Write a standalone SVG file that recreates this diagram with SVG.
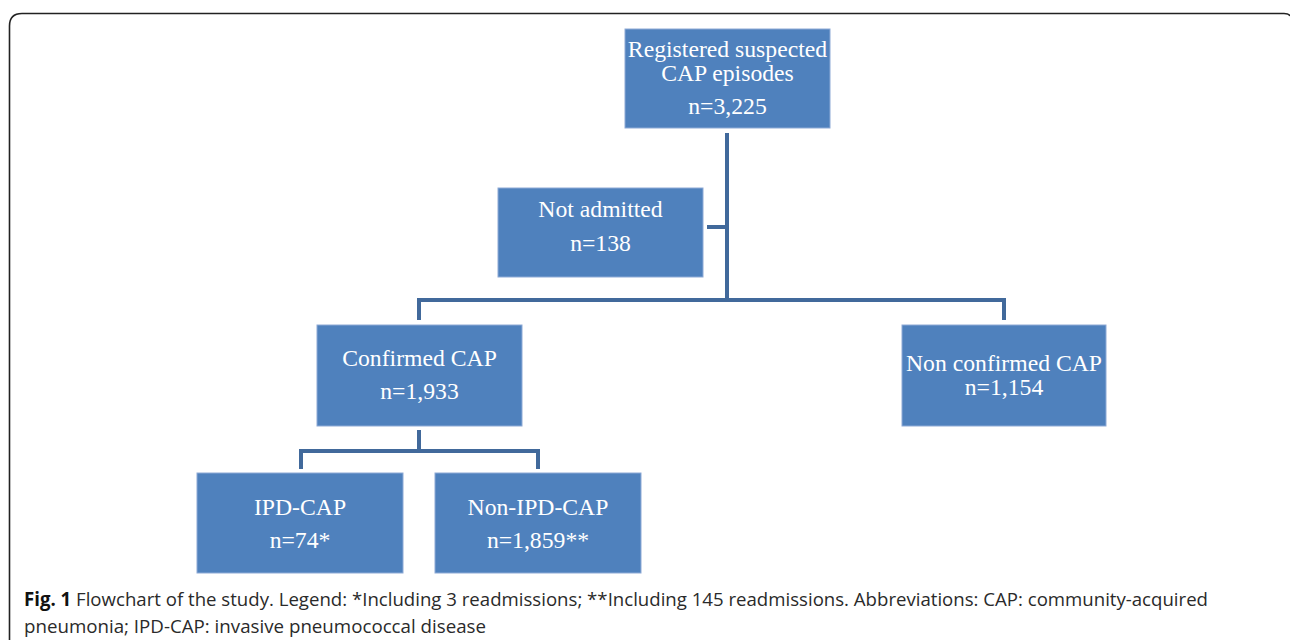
<svg xmlns="http://www.w3.org/2000/svg" width="1290" height="640" viewBox="0 0 1290 640">
<style>
.box{fill:#4F81BD;stroke:#8EAAD6;stroke-width:1}
.t{font-family:"Liberation Serif","Times New Roman",serif;font-size:23.7px;fill:#ffffff;text-anchor:middle}
.ln{fill:none;stroke:#41699B;stroke-width:4;stroke-linejoin:miter;stroke-linecap:butt}
.cap{font-family:"Open Sans","Liberation Sans",sans-serif;font-size:19px;fill:#2a2a2a}
</style>
<rect x="0" y="0" width="1290" height="640" fill="#ffffff"/>
<path d="M9.5,660 L9.5,26 Q9.5,13.5 22,13.5 L1284,13.5 Q1289,13.5 1290,16" fill="none" stroke="#222" stroke-width="1.6"/>
<g id="connectors">
<path class="ln" d="M727,133 L727,300"/>
<path class="ln" d="M707,227 L727,227"/>
<path class="ln" d="M419,320 L419,300 L1004,300 L1004,320"/>
<path class="ln" d="M419,430 L419,451"/>
<path class="ln" d="M301,469 L301,451 L538,451 L538,469"/>
</g>
<g id="registered">
<rect class="box" x="625" y="29" width="205" height="99"/>
<text class="t" x="727.5" y="57">Registered suspected</text>
<text class="t" x="727.5" y="81">CAP episodes</text>
<text class="t" x="727.5" y="114">n=3,225</text>
</g>
<g id="not-admitted">
<rect class="box" x="498" y="188" width="205" height="89"/>
<text class="t" x="600.5" y="217">Not admitted</text>
<text class="t" x="600.5" y="251">n=138</text>
</g>
<g id="confirmed">
<rect class="box" x="317" y="325" width="205" height="101"/>
<text class="t" x="419.5" y="366">Confirmed CAP</text>
<text class="t" x="419.5" y="399">n=1,933</text>
</g>
<g id="non-confirmed">
<rect class="box" x="902" y="325" width="204" height="101"/>
<text class="t" x="1004" y="371">Non confirmed CAP</text>
<text class="t" x="1004" y="395">n=1,154</text>
</g>
<g id="ipd">
<rect class="box" x="197" y="473" width="206" height="100"/>
<text class="t" x="300" y="515">IPD-CAP</text>
<text class="t" x="300" y="548">n=74*</text>
</g>
<g id="non-ipd">
<rect class="box" x="435" y="473" width="206" height="100"/>
<text class="t" x="538" y="515">Non-IPD-CAP</text>
<text class="t" x="538" y="548">n=1,859**</text>
</g>
<g id="caption">
<text class="cap" x="24" y="606" textLength="1184" lengthAdjust="spacingAndGlyphs"><tspan font-weight="bold" fill="#111">Fig. 1</tspan> Flowchart of the study. Legend: *Including 3 readmissions; **Including 145 readmissions. Abbreviations: CAP: community-acquired</text>
<text class="cap" x="24" y="633" textLength="462" lengthAdjust="spacingAndGlyphs">pneumonia; IPD-CAP: invasive pneumococcal disease</text>
</g>
</svg>
